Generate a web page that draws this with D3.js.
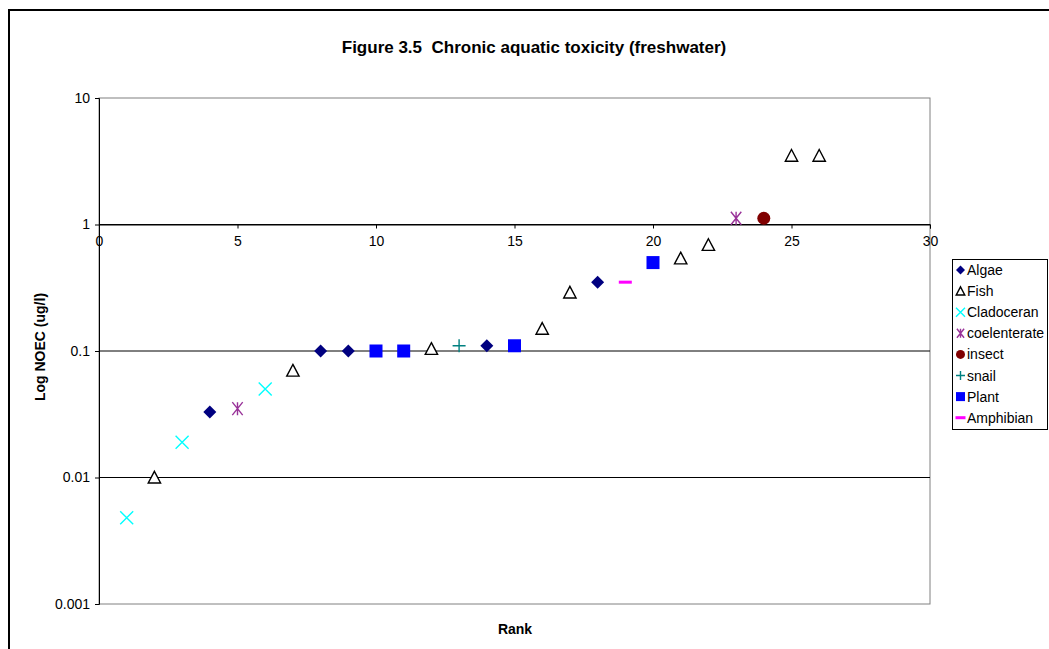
<!DOCTYPE html>
<html>
<head>
<meta charset="utf-8">
<script src="https://cdn.jsdelivr.net/npm/d3@7"></script>
<style>
  html, body { margin: 0; padding: 0; background: #fff; }
  svg { display: block; font-family: "Liberation Sans", Arial, sans-serif; }
</style>
</head>
<body>
<svg id="chart" width="1049" height="649"></svg>
<script>
// ---- data ----
const ranks  = [1, 2, 3, 4, 5, 6, 7, 8, 9, 10, 11, 12, 13, 14, 15, 16, 17, 18, 19, 20, 21, 22, 23, 24, 25, 26];
const values = [0.0048, 0.01, 0.019, 0.033, 0.035, 0.05, 0.07, 0.1, 0.1, 0.1, 0.1, 0.104, 0.11, 0.11, 0.11, 0.15, 0.29, 0.35, 0.35, 0.5, 0.54, 0.69, 1.12, 1.12, 3.5, 3.5];
const groups = ["Cladoceran", "Fish", "Cladoceran", "Algae", "coelenterate", "Cladoceran", "Fish", "Algae", "Algae", "Plant", "Plant", "Fish", "snail", "Algae", "Plant", "Fish", "Fish", "Algae", "Amphibian", "Plant", "Fish", "Fish", "coelenterate", "insect", "Fish", "Fish"];
const seriesNames = ["Algae", "Fish", "Cladoceran", "coelenterate", "insect", "snail", "Plant", "Amphibian"];
const xTicks = [0, 5, 10, 15, 20, 25, 30];
const yTicks = [0.001, 0.01, 0.1, 1, 10];
const yTickLabels = ["0.001", "0.01", "0.1", "1", "10"];
const titleText = "Figure 3.5  Chronic aquatic toxicity (freshwater)";
const xTitle = "Rank";
const yTitle = "Log NOEC (ug/l)";

// ---- styles ----
const colors = {
  Algae: "#000080", Fish: "#000000", Cladoceran: "#00FFFF", coelenterate: "#993399",
  insect: "#800000", snail: "#008080", Plant: "#0000FF", Amphibian: "#FF00FF"
};
const FONT = "Liberation Sans, Arial, sans-serif";

const svg = d3.select("#chart");
const L = 99, R = 930, T = 98, B = 604;
const x = d3.scaleLinear().domain([0, 30]).range([L, R]);
const y = d3.scaleLog().domain([0.001, 10]).range([B, T]);

// outer frame
svg.append("line").attr("x1", 9).attr("x2", 9).attr("y1", 10).attr("y2", 649).attr("stroke", "#000").attr("stroke-width", 2);
svg.append("line").attr("x1", 8).attr("x2", 1049).attr("y1", 10).attr("y2", 10).attr("stroke", "#000").attr("stroke-width", 2);

// title
svg.append("text").attr("x", 534).attr("y", 53).attr("text-anchor", "middle")
  .style("white-space", "pre").attr("xml:space", "preserve")
  .attr("font-size", 17).attr("font-weight", "bold").text(titleText);

// plot border (gray)
svg.append("rect").attr("x", L).attr("y", T).attr("width", R - L).attr("height", B - T)
  .attr("fill", "none").attr("stroke", "#808080").attr("stroke-width", 1);

// gridlines
svg.append("g").selectAll("line").data([0.01, 0.1, 1]).join("line")
  .attr("x1", L).attr("x2", R).attr("y1", d => y(d)).attr("y2", d => y(d))
  .attr("stroke", "#000").attr("stroke-width", 1);

// y axis
const yAxis = d3.axisLeft(y).tickValues(yTicks).tickSize(4).tickPadding(5)
  .tickFormat((d, i) => yTickLabels[i]);
const gy = svg.append("g").attr("transform", `translate(${L},0)`).call(yAxis);
gy.select(".domain").attr("stroke", "#000");
gy.selectAll(".tick line").attr("stroke", "#000");
gy.selectAll("text").attr("font-size", 14).attr("font-family", FONT).attr("fill", "#000");

// x axis at y = 1
const xAxis = d3.axisBottom(x).tickValues(xTicks).tickSize(4).tickPadding(8).tickFormat(d3.format("d"));
const gx = svg.append("g").attr("transform", `translate(0,${y(1)})`).call(xAxis);
gx.select(".domain").attr("stroke", "#000");
gx.selectAll(".tick line").attr("stroke", "#000");
gx.selectAll("text").attr("font-size", 14).attr("font-family", FONT).attr("fill", "#000");

// axis titles
svg.append("text").attr("x", 515).attr("y", 634).attr("text-anchor", "middle")
  .attr("font-size", 14).attr("font-weight", "bold").text(xTitle);
svg.append("text").attr("transform", "translate(45,347) rotate(-90)").attr("text-anchor", "middle")
  .attr("font-size", 14).attr("font-weight", "bold").text(yTitle);

// marker drawing
function drawMarker(g, name, s) {
  const c = colors[name];
  const h = s / 2;
  switch (name) {
    case "Algae":
      g.append("path").attr("d", `M0,${-h}L${h},0L0,${h}L${-h},0Z`).attr("fill", c);
      break;
    case "Fish":
      g.append("path").attr("d", `M0,${-h * 0.95}L${h * 0.95},${h * 0.85}L${-h * 0.95},${h * 0.85}Z`)
        .attr("fill", "#fff").attr("stroke", c).attr("stroke-width", 1.4);
      break;
    case "Cladoceran":
      g.append("path").attr("d", `M${-h},${-h}L${h},${h}M${-h},${h}L${h},${-h}`)
        .attr("stroke", c).attr("stroke-width", 1.4).attr("fill", "none");
      break;
    case "coelenterate":
      g.append("path").attr("d", `M${-h * 0.8},${-h}L${h * 0.8},${h}M${-h * 0.8},${h}L${h * 0.8},${-h}M0,${-h}L0,${h}`)
        .attr("stroke", c).attr("stroke-width", 1.4).attr("fill", "none");
      break;
    case "insect":
      g.append("circle").attr("r", h).attr("fill", c);
      break;
    case "snail":
      g.append("path").attr("d", `M${-h},0L${h},0M0,${-h}L0,${h}`)
        .attr("stroke", c).attr("stroke-width", 1.4).attr("fill", "none");
      break;
    case "Plant":
      g.append("rect").attr("x", -h).attr("y", -h).attr("width", s).attr("height", s).attr("fill", c);
      break;
    case "Amphibian":
      g.append("rect").attr("x", -h).attr("y", -1.5).attr("width", s).attr("height", 3).attr("fill", c);
      break;
  }
}

// points
ranks.forEach((r, i) => {
  const g = svg.append("g").attr("transform", `translate(${x(r)},${y(values[i])})`);
  drawMarker(g, groups[i], 13);
});

// legend
const lg = svg.append("g");
lg.append("rect").attr("x", 952.5).attr("y", 259.5).attr("width", 95).attr("height", 170)
  .attr("fill", "#fff").attr("stroke", "#000").attr("stroke-width", 1);
seriesNames.forEach((n, i) => {
  const yy = 270 + i * 21.1;
  const g = lg.append("g").attr("transform", `translate(960.5,${yy})`);
  drawMarker(g, n, n === "Amphibian" ? 10 : 9);
  lg.append("text").attr("x", 967).attr("y", yy + 5).attr("font-size", 14).text(n);
});
</script>
</body>
</html>
